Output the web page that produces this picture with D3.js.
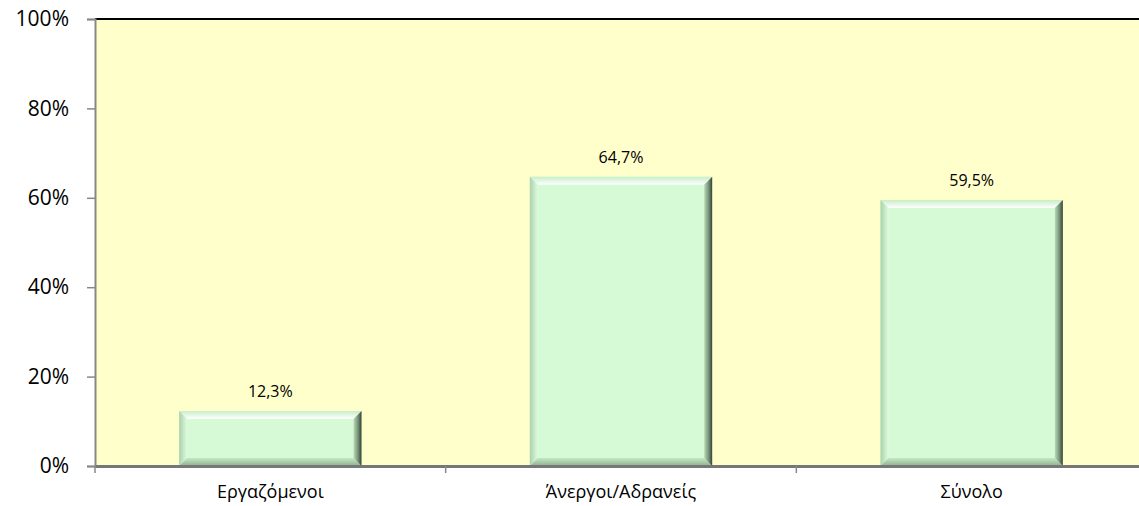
<!DOCTYPE html>
<html>
<head>
<meta charset="utf-8">
<script src="https://cdn.jsdelivr.net/npm/d3@7"></script>
<style>
  body { margin: 0; background: #fff; }
  svg { display: block; }
</style>
</head>
<body>
<div id="chart"></div>
<script>
var categories = ["Εργαζόμενοι", "Άνεργοι/Αδρανείς", "Σύνολο"];
var values = [12.3, 64.7, 59.5];
var yTicks = [0, 20, 40, 60, 80, 100];

var W = 1139, H = 506;
var margin = { top: 19, right: -8, bottom: 40, left: 95 };
var width = W - margin.left - margin.right,
    height = H - margin.top - margin.bottom;

var svg = d3.select("#chart").append("svg")
    .attr("width", W)
    .attr("height", H);

var defs = svg.append("defs");
var gR = defs.append("linearGradient").attr("id", "bevR").attr("x1", 0).attr("x2", 1).attr("y1", 0).attr("y2", 0);
gR.append("stop").attr("offset", "0%").attr("stop-color", "#b8dcb8");
gR.append("stop").attr("offset", "55%").attr("stop-color", "#7a947a");
gR.append("stop").attr("offset", "100%").attr("stop-color", "#364236");
var gB = defs.append("linearGradient").attr("id", "bevB").attr("x1", 0).attr("x2", 0).attr("y1", 0).attr("y2", 1);
gB.append("stop").attr("offset", "0%").attr("stop-color", "#c4e8c4");
gB.append("stop").attr("offset", "100%").attr("stop-color", "#8fb08f");
var gT = defs.append("linearGradient").attr("id", "bevT").attr("x1", 0).attr("x2", 0).attr("y1", 0).attr("y2", 1);
gT.append("stop").attr("offset", "0%").attr("stop-color", "#c8eec8");
gT.append("stop").attr("offset", "100%").attr("stop-color", "#ffffff");
var gL = defs.append("linearGradient").attr("id", "bevL").attr("x1", 0).attr("x2", 1).attr("y1", 0).attr("y2", 0);
gL.append("stop").attr("offset", "0%").attr("stop-color", "#aad2aa");
gL.append("stop").attr("offset", "100%").attr("stop-color", "#e0fae0");

var g = svg.append("g")
    .attr("transform", "translate(" + margin.left + "," + margin.top + ")");

var x = d3.scaleBand().domain(categories).range([0, width]).paddingInner(0.48).paddingOuter(0.24);
var y = d3.scaleLinear().domain([0, 100]).range([height, 0]);

var font = "'Open Sans', 'Noto Sans', sans-serif";

// plot background
g.append("rect")
    .attr("width", width)
    .attr("height", height)
    .attr("fill", "#ffffcc");

// top border
g.append("line")
    .attr("x1", 0).attr("x2", width)
    .attr("y1", 0).attr("y2", 0)
    .attr("stroke", "#000").attr("stroke-width", 2);

// bars with bevel
var b = 8;
var bars = g.selectAll(".bar").data(values).enter().append("g").attr("class", "bar");
bars.each(function(d, i) {
    var el = d3.select(this);
    var x0 = x(categories[i]), x1 = x0 + x.bandwidth();
    var y0 = y(d), y1 = y(0);
    el.append("rect").attr("x", x0).attr("y", y0).attr("width", x1 - x0).attr("height", y1 - y0)
        .attr("fill", "#d5fad5");
    el.append("polygon").attr("fill", "url(#bevT)")
        .attr("points", [[x0, y0], [x1, y0], [x1 - b, y0 + b], [x0 + b, y0 + b]].join(" "));
    el.append("polygon").attr("fill", "url(#bevL)")
        .attr("points", [[x0, y0], [x0 + b, y0 + b], [x0 + b, y1 - b], [x0, y1]].join(" "));
    el.append("polygon").attr("fill", "url(#bevB)")
        .attr("points", [[x0, y1], [x0 + b, y1 - b], [x1 - b, y1 - b], [x1, y1]].join(" "));
    el.append("polygon").attr("fill", "url(#bevR)")
        .attr("points", [[x1, y0], [x1 - b, y0 + b], [x1 - b, y1 - b], [x1, y1]].join(" "));
});

// value labels
g.selectAll(".val").data(values).enter().append("text")
    .attr("class", "val")
    .attr("x", function(d, i) { return x(categories[i]) + x.bandwidth() / 2; })
    .attr("y", function(d) { return y(d) - 14; })
    .attr("text-anchor", "middle")
    .style("font-family", font)
    .style("font-size", "16px")
    .attr("fill", "#000")
    .text(function(d) { return d3.format(".1f")(d).replace(".", ",") + "%"; });

// y axis
var yAxis = d3.axisLeft(y).tickValues(yTicks).tickSize(8).tickPadding(18)
    .tickFormat(function(d) { return d + "%"; });
var ya = g.append("g").call(yAxis);
ya.select(".domain").attr("stroke", "#888").attr("stroke-width", 2);
ya.selectAll(".tick line").attr("stroke", "#888").attr("stroke-width", 1.5);
ya.selectAll("text")
    .style("font-family", font)
    .style("font-size", "21px")
    .attr("fill", "#000");

// x axis
var xa = g.append("g").attr("transform", "translate(0," + height + ")")
    .call(d3.axisBottom(x).tickSize(0).tickPadding(19));
xa.select(".domain").attr("stroke", "#777").attr("stroke-width", 3);
xa.selectAll("text")
    .style("font-family", font)
    .style("font-size", "18px")
    .attr("fill", "#000");

// category boundary ticks
var step = width / categories.length;
xa.selectAll(".sep").data(d3.range(categories.length)).enter().append("line")
    .attr("class", "sep")
    .attr("x1", function(d) { return d * step; })
    .attr("x2", function(d) { return d * step; })
    .attr("y1", 0).attr("y2", 7)
    .attr("stroke", "#888").attr("stroke-width", 1.5);
</script>
</body>
</html>
